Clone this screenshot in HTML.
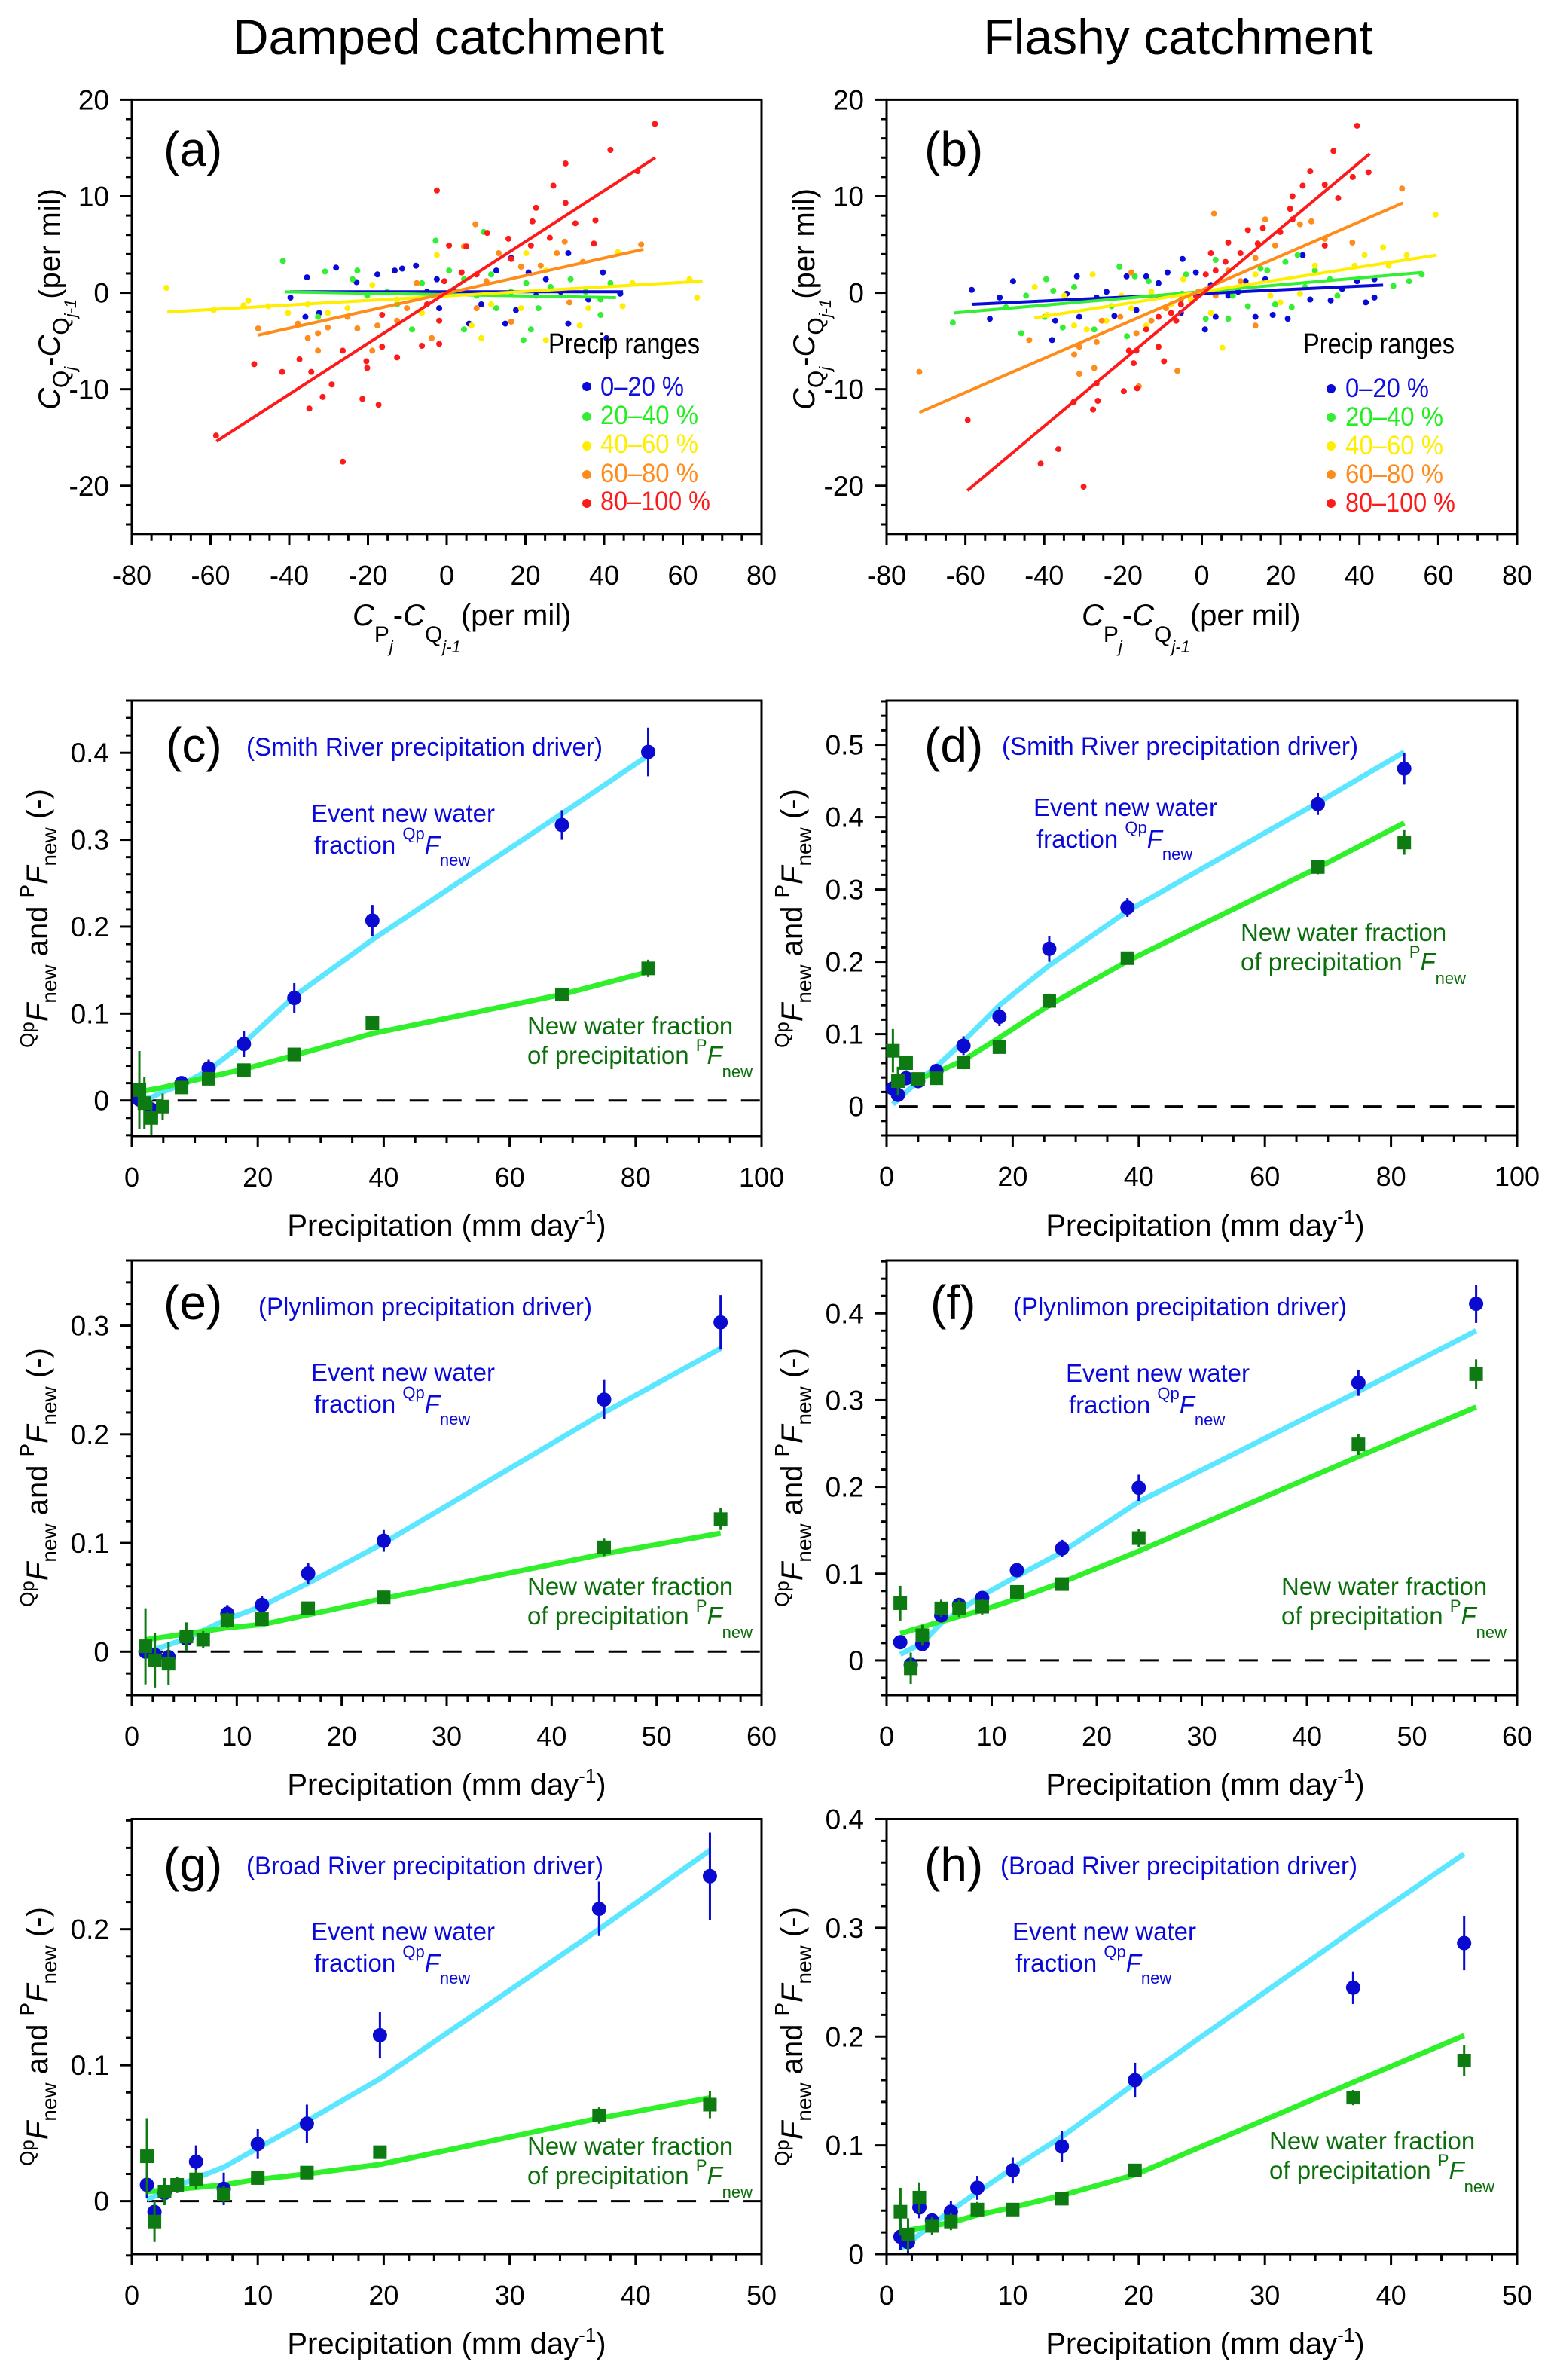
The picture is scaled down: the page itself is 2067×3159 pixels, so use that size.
<!DOCTYPE html>
<html><head><meta charset="utf-8"><style>
html,body{margin:0;padding:0;background:#fff;}
svg{display:block;font-family:"Liberation Sans",Arial,sans-serif;}
</style></head><body>
<svg id="fig" xmlns="http://www.w3.org/2000/svg" width="2067" height="3159" viewBox="0 0 2067 3159">
<rect width="2067" height="3159" fill="#fff"/>
<text x="595" y="72" font-size="66" text-anchor="middle">Damped catchment</text>
<text x="1564" y="72" font-size="66" text-anchor="middle">Flashy catchment</text>
<g id="layer"></g>
</svg>
<script>
// ---------- scatter data (a) damped ----------
const aRed=[[52.9,17.5],[41.6,14.8],[30.2,13.4],[48.5,12.6],[27.1,11.1],[-2.5,10.6],[30.2,9.3],[22.7,8.8],[21.8,7.4],[37.8,7.5],[32.7,7.2],[26.2,5.7],[10.3,6.2],[15.7,5.6],[37.4,5.1],[21.4,4.9],[5.0,4.8],[0.6,4.9],[16.4,3.5],[7.6,1.9],[3.8,2.1],[-0.6,1.2],[-5.0,-1.2],[-1.9,-2.9],[-1.9,-5.3],[-6.3,-5.5],[-12.6,-6.7],[-16.4,-2.3],[-16.4,-5.6],[-20.2,-7.8],[-20.4,-7.1],[-21.4,-11.0],[-17.3,-11.6],[-26.4,-6.0],[-29.2,-9.5],[-31.5,-10.8],[-34.4,-8.2],[-34.9,-12.0],[-37.4,-6.9],[-41.8,-8.2],[-48.9,-7.4],[-58.6,-14.8],[-26.4,-17.5]];
const aOrange=[[49.4,5.0],[30.0,5.3],[7.3,7.1],[4.4,4.8],[18.9,2.7],[13.2,4.1],[34.6,3.2],[23.9,2.8],[10.1,1.2],[31.2,-1.0],[16.4,-3.0],[7.6,-1.6],[-3.8,-0.3],[-7.6,1.0],[-10.1,-1.6],[-12.6,-2.9],[-17.6,-3.4],[-18.9,-6.0],[-22.7,-3.7],[-25.2,-2.5],[-30.2,-3.6],[-32.7,-6.0],[-35.3,-4.7],[-37.8,-3.2],[-47.9,-3.7],[-32.7,-4.2],[-3.8,-4.7],[28.0,4.1]];
const aYellow=[[-71.2,0.5],[-59.2,-1.8],[-51.6,-1.3],[-50.4,-0.8],[-45.3,-1.4],[-40.3,-2.1],[-35.3,-1.2],[-30.2,-2.1],[-25.2,-1.6],[-18.9,0.8],[-12.6,-0.7],[-6.3,-2.1],[-2.5,3.9],[6.3,-3.4],[8.8,-4.7],[11.3,-1.2],[18.9,-1.6],[25.2,-4.9],[33.8,-3.4],[36.0,-1.6],[43.5,4.2],[44.7,-1.4],[47.2,1.0],[61.7,1.4],[63.6,-0.5],[20.2,4.1],[25.2,2.3]];
const aGreen=[[-41.6,3.3],[-30.9,2.2],[-22.7,2.3],[-23.9,1.4],[-20.2,-0.3],[-15.1,0.1],[-12.6,-1.2],[-8.8,-3.8],[-6.3,1.0],[-2.8,5.4],[0.6,2.3],[4.4,1.4],[4.4,-3.8],[9.4,6.3],[11.3,1.9],[12.6,-1.6],[16.4,0.1],[20.2,1.0],[19.5,-4.9],[23.3,-1.6],[26.4,0.6],[31.5,1.4],[35.3,0.1],[39.1,-0.7],[41.6,1.0],[39.1,-2.3],[-32.7,-2.5],[7.6,-0.3],[21.4,-3.8]];
const aBlue=[[-39.7,-0.5],[-35.5,1.6],[-35.9,-2.5],[-32.4,-2.1],[-28.1,2.6],[-22.9,1.1],[-17.6,1.9],[-13.2,2.3],[-11.3,2.5],[-7.8,2.8],[-5.0,0.1],[-2.5,1.4],[-1.9,-1.6],[1.9,0.1],[5.7,-3.2],[8.8,-1.2],[12.6,2.3],[16.4,3.6],[14.9,-3.2],[17.6,-1.8],[20.8,2.1],[22.7,-0.3],[25.2,1.4],[29.0,0.1],[30.9,4.1],[30.9,-3.2],[36.0,-0.7],[39.7,2.1],[40.6,-4.7],[44.1,-0.1]];
const aLineBlue=[[-39.8,0.1],[44.8,0.1]];
const aLineGreen=[[-41,0.1],[43,-0.5]];
const aLineYellow=[[-71,-2.0],[65,1.2]];
const aLineOrange=[[-48,-4.4],[50,4.5]];
const aLineRed=[[-58.5,-15.4],[53,14.0]];
// ---------- scatter data (b) flashy ----------
const bRed=[[39.4,17.3],[33.4,14.7],[27.5,12.6],[42.3,12.5],[38.3,12.0],[31.2,11.2],[25.6,11.1],[23.0,10.0],[34.6,9.8],[22.4,8.7],[23.0,7.6],[15.5,6.7],[11.7,6.5],[19.9,6.3],[31.2,4.9],[6.7,5.2],[9.8,4.1],[14.2,5.1],[2.3,4.1],[6.0,3.2],[3.5,2.3],[1.0,1.9],[-1.5,-0.3],[-5.3,-1.2],[-7.8,-2.1],[-6.5,-2.9],[-11.0,-2.5],[-14.1,-3.8],[-11.0,-5.6],[-18.5,-6.0],[-16.6,-6.0],[-9.6,-7.1],[-17.3,-7.3],[-16.4,-9.9],[-19.8,-10.2],[-26.4,-11.2],[-27.6,-12.1],[-32.5,-11.3],[-26.7,-9.4],[-36.4,-16.2],[-40.9,-17.7],[-30.0,-20.1],[-59.4,-13.2]];
const bOrange=[[50.8,10.8],[3.1,8.2],[16.1,7.6],[27.8,7.4],[24.9,7.1],[31.2,5.6],[38.2,5.2],[18.6,4.9],[13.6,3.6],[6.7,2.3],[9.8,1.2],[3.5,-0.3],[-0.9,0.1],[-5.3,-0.7],[-9.1,-1.6],[-12.8,-2.9],[-16.6,-4.2],[-17.9,2.1],[-20.7,-2.5],[-25.4,-2.9],[-26.7,-5.1],[-31.1,-5.6],[-32.4,-6.4],[-27.3,-7.8],[-31.1,-8.4],[-43.8,-4.9],[-71.7,-8.2],[-6.2,-8.1],[-16.0,-9.7],[13.6,-3.4]];
const bYellow=[[59.3,8.1],[52.0,3.9],[46.0,4.7],[41.3,3.9],[38.8,2.8],[47.4,2.8],[28.7,2.8],[24.9,-0.1],[19.9,-1.0],[17.4,-0.3],[13.6,1.9],[5.2,-5.7],[2.3,-2.1],[-2.8,-0.7],[-4.7,1.4],[-7.8,-1.2],[-12.8,0.1],[-14.1,-3.4],[-17.9,-1.6],[-20.4,-0.3],[-24.2,-2.9],[-27.7,1.9],[-29.2,-3.8],[-32.4,-3.4],[-34.9,-0.3],[-42.4,0.6],[-39.3,-2.3]];
const bGreen=[[-63.2,-3.1],[-49.7,-1.5],[-45.8,-4.2],[-44.6,-0.3],[-39.5,1.4],[-39.9,-2.5],[-37.7,0.2],[-35.3,-3.6],[-32.4,0.6],[-27.3,-3.8],[-22.9,-1.4],[-20.9,2.7],[-19.0,-4.5],[-17.0,1.7],[-13.5,1.2],[-7.8,-0.3],[-5.0,-0.1],[-4.0,1.9],[1.0,-2.7],[3.5,3.4],[6.7,-2.7],[7.9,-0.3],[11.7,-1.4],[14.9,2.5],[16.6,2.3],[18.6,-1.2],[21.2,3.2],[22.8,-1.5],[24.3,3.9],[26.2,0.6],[28.7,2.3],[32.5,1.4],[34.4,-0.3],[48.6,0.7],[55.8,1.9],[52.6,1.2]];
const bBlue=[[-58.4,0.3],[-53.8,-2.7],[-51.3,-0.5],[-47.9,1.2],[-38.0,-4.9],[-37.2,-2.9],[-34.3,-0.1],[-31.7,1.7],[-31.1,-2.5],[-26.7,-0.5],[-24.2,0.1],[-22.2,-2.4],[-19.1,1.7],[-16.6,-1.8],[-14.1,1.7],[-11.0,1.0],[-8.7,2.1],[-4.9,3.5],[-5.3,-2.1],[-1.5,2.1],[0.8,-3.8],[2.3,0.8],[3.5,-2.5],[6.7,-0.3],[9.2,0.1],[11.1,1.2],[13.6,-2.5],[16.1,1.4],[18.0,-2.3],[21.8,-2.7],[25.6,3.9],[27.5,-0.7],[32.7,-0.8],[35.6,0.4],[39.4,1.2],[41.6,-1.0],[43.8,1.4],[43.8,-0.5]];
const bLineBlue=[[-58.4,-1.2],[46,0.8]];
const bLineGreen=[[-63,-2.1],[56,2.1]];
const bLineYellow=[[-42.5,-2.6],[59.6,3.9]];
const bLineOrange=[[-71.7,-12.4],[51,9.3]];
const bLineRed=[[-59.5,-20.5],[42.6,14.4]];
// ---------- (c) ----------
const cBlueX=[1.2,3.0,7.9,12.2,17.8,25.8,38.2,68.3,82.0];
const cBlueY=[0.001,-0.01,0.02,0.037,0.065,0.118,0.207,0.317,0.401];
const cBlueE=[0.005,0.006,0.006,0.01,0.015,0.017,0.018,0.017,0.028];
const cGreenX=[1.2,2.0,3.1,4.9,7.9,12.2,17.8,25.8,38.2,68.3,82.0];
const cGreenY=[0.012,-0.003,-0.02,-0.007,0.015,0.025,0.035,0.053,0.089,0.122,0.152];
const cGreenE=[0.045,0.03,0.02,0.015,0.005,0.004,0.004,0.004,0.004,0.004,0.01];
const cCyanX=[1.2,3.0,4.9,7.9,12.2,17.8,25.8,38.2,68.3,82.0];
const cCyanY=[0.002,0.003,0.01,0.018,0.035,0.066,0.12,0.185,0.33,0.397];
const cLineX=[1.2,4.9,7.9,12.2,17.8,25.8,38.2,68.3,82.0];
const cLineY=[0.01,0.015,0.02,0.027,0.036,0.052,0.077,0.122,0.148];
// ---------- (d) ----------
const dBlueX=[1.0,1.8,3.1,5.0,7.9,12.2,17.9,25.8,38.2,68.4,82.1];
const dBlueY=[0.025,0.016,0.039,0.035,0.049,0.084,0.124,0.218,0.275,0.418,0.467];
const dBlueE=[0.006,0.006,0.006,0.008,0.006,0.013,0.013,0.018,0.013,0.015,0.022];
const dGreenX=[1.0,1.8,3.1,5.0,7.9,12.2,17.9,25.8,38.2,68.4,82.1];
const dGreenY=[0.077,0.035,0.06,0.038,0.039,0.061,0.082,0.146,0.205,0.331,0.365];
const dGreenE=[0.03,0.02,0.01,0.006,0.006,0.008,0.006,0.01,0.007,0.01,0.017];
const dCyanX=[1.0,3.1,5.0,7.9,12.2,17.9,25.8,38.2,68.4,82.1];
const dCyanY=[0.003,0.02,0.035,0.055,0.09,0.14,0.195,0.27,0.42,0.49];
const dLineX=[1.8,5.0,7.9,12.2,17.9,25.8,38.2,68.4,82.1];
const dLineY=[0.03,0.038,0.047,0.064,0.095,0.14,0.201,0.33,0.392];
// ---------- (e) ----------
const eBlueX=[1.3,2.2,3.5,5.2,9.1,12.4,16.8,24.0,45.0,56.1];
const eBlueY=[0.0,-0.003,-0.005,0.012,0.035,0.043,0.072,0.102,0.232,0.303];
const eBlueE=[0.006,0.006,0.006,0.006,0.008,0.008,0.01,0.01,0.018,0.025];
const eGreenX=[1.3,2.2,3.5,5.2,6.8,9.1,12.4,16.8,24.0,45.0,56.1];
const eGreenY=[0.005,-0.008,-0.011,0.014,0.011,0.029,0.03,0.04,0.05,0.096,0.122];
const eGreenE=[0.035,0.025,0.02,0.013,0.008,0.007,0.005,0.004,0.004,0.008,0.01];
const eCyanX=[1.3,2.2,5.2,9.1,12.4,16.8,24.0,45.0,56.1];
const eCyanY=[-0.001,0.002,0.012,0.03,0.042,0.063,0.1,0.22,0.279];
const eLineX=[1.3,9.1,12.4,16.8,24.0,45.0,56.1];
const eLineY=[0.011,0.022,0.025,0.034,0.049,0.09,0.109];
// ---------- (f) ----------
const fBlueX=[1.3,2.3,3.4,5.2,6.9,9.1,12.4,16.7,24.0,44.9,56.1];
const fBlueY=[0.021,-0.005,0.019,0.052,0.064,0.072,0.104,0.129,0.199,0.32,0.411];
const fBlueE=[0.005,0.005,0.006,0.008,0.008,0.008,0.008,0.01,0.015,0.015,0.022];
const fGreenX=[1.3,2.3,3.4,5.2,6.9,9.1,12.4,16.7,24.0,44.9,56.1];
const fGreenY=[0.066,-0.009,0.029,0.06,0.06,0.062,0.079,0.088,0.141,0.249,0.33];
const fGreenE=[0.02,0.018,0.012,0.01,0.01,0.009,0.005,0.005,0.01,0.012,0.017];
const fCyanX=[1.3,3.4,5.2,9.1,12.4,16.7,24.0,44.9,56.1];
const fCyanY=[0.007,0.02,0.043,0.075,0.097,0.125,0.183,0.31,0.38];
const fLineX=[1.3,5.2,9.1,12.4,16.7,24.0,44.9,56.1];
const fLineY=[0.031,0.045,0.058,0.071,0.09,0.126,0.235,0.292];
// ---------- (g) ----------
const gBlueX=[1.2,1.8,2.6,5.1,7.3,10.0,13.9,19.7,37.1,45.9];
const gBlueY=[0.012,-0.008,0.006,0.029,0.009,0.042,0.057,0.122,0.215,0.239];
const gBlueE=[0.01,0.005,0.005,0.012,0.012,0.011,0.014,0.017,0.02,0.032];
const gGreenX=[1.2,1.8,2.6,3.6,5.1,7.3,10.0,13.9,19.7,37.1,45.9];
const gGreenY=[0.033,-0.015,0.007,0.012,0.016,0.005,0.017,0.021,0.036,0.063,0.071];
const gGreenE=[0.028,0.015,0.01,0.006,0.007,0.006,0.004,0.004,0.004,0.006,0.01];
const gCyanX=[1.2,2.6,5.1,7.3,10.0,13.9,19.7,37.1,45.9];
const gCyanY=[0.001,0.007,0.017,0.025,0.039,0.059,0.09,0.2,0.258];
const gLineX=[1.2,5.1,7.3,10.0,13.9,19.7,37.1,45.9];
const gLineY=[0.007,0.01,0.012,0.016,0.02,0.027,0.061,0.076];
// ---------- (h) ----------
const hBlueX=[1.1,1.7,2.6,3.6,5.1,7.2,10.0,13.9,19.7,37.0,45.8];
const hBlueY=[0.016,0.011,0.043,0.031,0.039,0.061,0.077,0.099,0.16,0.245,0.286];
const hBlueE=[0.012,0.01,0.01,0.006,0.01,0.011,0.012,0.014,0.016,0.015,0.025];
const hGreenX=[1.1,1.7,2.6,3.6,5.1,7.2,10.0,13.9,19.7,37.0,45.8];
const hGreenY=[0.039,0.018,0.052,0.026,0.03,0.041,0.041,0.051,0.077,0.144,0.178];
const hGreenE=[0.022,0.015,0.014,0.008,0.008,0.007,0.005,0.005,0.006,0.007,0.014];
const hCyanX=[1.1,1.7,3.6,5.1,7.2,10.0,13.9,19.7,37.0,45.8];
const hCyanY=[0.005,0.01,0.027,0.04,0.057,0.079,0.108,0.157,0.298,0.368];
const hLineX=[1.7,5.1,7.2,10.0,13.9,19.7,37.0,45.8];
const hLineY=[0.022,0.029,0.036,0.043,0.054,0.073,0.158,0.201];

const NS='http://www.w3.org/2000/svg';
const layer=document.getElementById('layer');
function mk(tag,attrs,parent){const e=document.createElementNS(NS,tag);for(const k in attrs)e.setAttribute(k,attrs[k]);(parent||layer).appendChild(e);return e;}
function sx(p,v){return p.x0+(v-p.xmin)/(p.xmax-p.xmin)*(p.x1-p.x0);}
function sy(p,v){return p.y1-(v-p.ymin)/(p.ymax-p.ymin)*(p.y1-p.y0);}
function fmt(v){return (Math.round(v*1000)/1000).toString();}
function range(a,b,s){const r=[];for(let v=a;v<=b+1e-9;v+=s)r.push(Math.round(v*1000)/1000);return r;}

function axes(p,id){
  const g=mk('g',{});
  
  
  const fr=mk('rect',{x:p.x0,y:p.y0,width:p.x1-p.x0,height:p.y1-p.y0,fill:'none',stroke:'#000','stroke-width':3},g);
  
  
  range(p.xmin,p.xmax,p.xminor).forEach(v=>{
    const X=sx(p,v);const major=p.xmajor.some(m=>Math.abs(m-v)<1e-6);
    const t=mk('line',{x1:X,x2:X,y1:p.y1,y2:p.y1+(major?15:9),stroke:'#000','stroke-width':3},g);
    
    
  });
  p.xmajor.forEach(v=>{
    const t=mk('text',{x:sx(p,v),y:p.y1+67,'font-size':36,'text-anchor':'middle'},g);t.textContent=fmt(v);
    
    
  });
  range(p.yminorStart,p.ymax+1e-9,p.yminor).forEach(v=>{
    const Y=sy(p,v);const major=p.ymajor.some(m=>Math.abs(m-v)<1e-6);
    const t=mk('line',{x1:p.x0-(major?16:8),x2:p.x0,y1:Y,y2:Y,stroke:'#000','stroke-width':3},g);
    
    
  });
  p.ymajor.forEach(v=>{
    const t=mk('text',{x:p.x0-30,y:sy(p,v)+13,'font-size':37,'text-anchor':'end'},g);t.textContent=fmt(v);
    
    
  });
}

const PA={x0:175,x1:1011,y0:132.4,y1:708.8,xmin:-80,xmax:80,ymin:-25,ymax:20,xmajor:range(-80,80,20),xminor:5,ymajor:[-20,-10,0,10,20],yminor:2,yminorStart:-24};
const PB=Object.assign({},PA,{x0:1177,x1:2014});
const scol={blue:'#0a0ad8',green:'#33ee33',yellow:'#ffee00',orange:'#ff8c1a',red:'#ff1a1a'};
function scatterPanel(p,id,sets,lines){
  axes(p,id);
  const order=['blue','green','yellow','orange','red'];
  order.forEach(c=>{
    const g=mk('g',{fill:scol[c]});
    
    
    sets[c].forEach(d=>{
      const e=mk('circle',{cx:sx(p,d[0]),cy:sy(p,d[1]),r:4},g);
      
      
    });
  });
  order.forEach(c=>{
    const L=lines[c];
    const e=mk('line',{x1:sx(p,L[0][0]),y1:sy(p,L[0][1]),x2:sx(p,L[1][0]),y2:sy(p,L[1][1]),stroke:scol[c],'stroke-width':4});
    
    
  });
}
scatterPanel(PA,'a',{blue:aBlue,green:aGreen,yellow:aYellow,orange:aOrange,red:aRed},{blue:aLineBlue,green:aLineGreen,yellow:aLineYellow,orange:aLineOrange,red:aLineRed});
scatterPanel(PB,'b',{blue:bBlue,green:bGreen,yellow:bYellow,orange:bOrange,red:bRed},{blue:bLineBlue,green:bLineGreen,yellow:bLineYellow,orange:bLineOrange,red:bLineRed});

function fracPanel(p,id,d){
  axes(p,id);
  if(p.ymin<0){
    const z=mk('line',{x1:sx(p,p.dashStart),x2:p.x1,y1:sy(p,0),y2:sy(p,0),stroke:'#000','stroke-width':3,'stroke-dasharray':'25 19'});
    
    
  }
  const pc=mk('polyline',{points:d.cx.map((x,i)=>sx(p,x)+','+sy(p,d.cy[i])).join(' '),fill:'none',stroke:'#5ce6ff','stroke-width':7,'stroke-linejoin':'round'});
  
  
  const pg=mk('polyline',{points:d.lx.map((x,i)=>sx(p,x)+','+sy(p,d.ly[i])).join(' '),fill:'none',stroke:'#2ff02a','stroke-width':7,'stroke-linejoin':'round'});
  
  
  d.bx.forEach((x,i)=>{
    const X=sx(p,x),Y=sy(p,d.by[i]);
    const eb=mk('line',{x1:X,x2:X,y1:sy(p,d.by[i]-d.be[i]),y2:sy(p,d.by[i]+d.be[i]),stroke:'#0a0ad0','stroke-width':3});
    
    
    const c=mk('circle',{cx:X,cy:Y,r:9.5,fill:'#0a0ad0'});
    
    
  });
  d.gx.forEach((x,i)=>{
    const X=sx(p,x),Y=sy(p,d.gy[i]);
    const eb=mk('line',{x1:X,x2:X,y1:sy(p,d.gy[i]-d.ge[i]),y2:sy(p,d.gy[i]+d.ge[i]),stroke:'#0e7a12','stroke-width':3});
    
    
    const s=mk('rect',{x:X-9,y:Y-9,width:18,height:18,fill:'#0e7a12'});
    
    
  });
}
const L0=175,L1=1011,R0=1177,R1=2014;
fracPanel({x0:L0,x1:L1,y0:930,y1:1508,xmin:0,xmax:100,ymin:-0.041,ymax:0.46,xmajor:range(0,100,20),xminor:5,ymajor:[0,0.1,0.2,0.3,0.4],yminor:0.02,yminorStart:-0.04,dashStart:2},'c',
 {bx:cBlueX,by:cBlueY,be:cBlueE,gx:cGreenX,gy:cGreenY,ge:cGreenE,cx:cCyanX,cy:cCyanY,lx:cLineX,ly:cLineY});
fracPanel({x0:R0,x1:R1,y0:930,y1:1507,xmin:0,xmax:100,ymin:-0.040,ymax:0.561,xmajor:range(0,100,20),xminor:5,ymajor:[0,0.1,0.2,0.3,0.4,0.5],yminor:0.02,yminorStart:-0.04,dashStart:2},'d',
 {bx:dBlueX,by:dBlueY,be:dBlueE,gx:dGreenX,gy:dGreenY,ge:dGreenE,cx:dCyanX,cy:dCyanY,lx:dLineX,ly:dLineY});
fracPanel({x0:L0,x1:L1,y0:1673,y1:2250,xmin:0,xmax:60,ymin:-0.04,ymax:0.36,xmajor:range(0,60,10),xminor:2,ymajor:[0,0.1,0.2,0.3],yminor:0.02,yminorStart:-0.04,dashStart:1.2},'e',
 {bx:eBlueX,by:eBlueY,be:eBlueE,gx:eGreenX,gy:eGreenY,ge:eGreenE,cx:eCyanX,cy:eCyanY,lx:eLineX,ly:eLineY});
fracPanel({x0:R0,x1:R1,y0:1673,y1:2250,xmin:0,xmax:60,ymin:-0.04,ymax:0.461,xmajor:range(0,60,10),xminor:2,ymajor:[0,0.1,0.2,0.3,0.4],yminor:0.02,yminorStart:-0.04,dashStart:2},'f',
 {bx:fBlueX,by:fBlueY,be:fBlueE,gx:fGreenX,gy:fGreenY,ge:fGreenE,cx:fCyanX,cy:fCyanY,lx:fLineX,ly:fLineY});
fracPanel({x0:L0,x1:L1,y0:2414.5,y1:2992,xmin:0,xmax:50,ymin:-0.039,ymax:0.281,xmajor:range(0,50,10),xminor:2,ymajor:[0,0.1,0.2],yminor:0.02,yminorStart:-0.04,dashStart:1.2},'g',
 {bx:gBlueX,by:gBlueY,be:gBlueE,gx:gGreenX,gy:gGreenY,ge:gGreenE,cx:gCyanX,cy:gCyanY,lx:gLineX,ly:gLineY});
fracPanel({x0:R0,x1:R1,y0:2414.5,y1:2992,xmin:0,xmax:50,ymin:0,ymax:0.4,xmajor:range(0,50,10),xminor:2,ymajor:[0,0.1,0.2,0.3,0.4],yminor:0.02,yminorStart:0,dashStart:2},'h',
 {bx:hBlueX,by:hBlueY,be:hBlueE,gx:hGreenX,gy:hGreenY,ge:hGreenE,cx:hCyanX,cy:hCyanY,lx:hLineX,ly:hLineY});
</script>
<svg style="position:absolute;left:0;top:0" width="2067" height="3159" viewBox="0 0 2067 3159" xmlns="http://www.w3.org/2000/svg" font-family="Liberation Sans, Arial, sans-serif">
<g font-size="64">
<text x="217" y="220">(a)</text>
<text x="1227" y="220">(b)</text>
<text x="220" y="1011">(c)</text>
<text x="1227" y="1011">(d)</text>
<text x="217" y="1751">(e)</text>
<text x="1235" y="1751">(f)</text>
<text x="217" y="2497">(g)</text>
<text x="1227" y="2497">(h)</text>
</g>
<g font-size="35">
<text x="728" y="469" textLength="201" lengthAdjust="spacingAndGlyphs" font-size="38">Precip ranges</text>
<circle cx="779" cy="513" r="6" fill="#0a0ad8"/><text x="797" y="525" fill="#1010e0" textLength="111" lengthAdjust="spacingAndGlyphs">0–20 %</text>
<circle cx="779" cy="553" r="6" fill="#33ee33"/><text x="797" y="563" fill="#22ee22" textLength="130" lengthAdjust="spacingAndGlyphs">20–40 %</text>
<circle cx="779" cy="592" r="6" fill="#ffee00"/><text x="797" y="601" fill="#ffee00" textLength="130" lengthAdjust="spacingAndGlyphs">40–60 %</text>
<circle cx="779" cy="630" r="6" fill="#ff8c1a"/><text x="797" y="640" fill="#ff8c1a" textLength="130" lengthAdjust="spacingAndGlyphs">60–80 %</text>
<circle cx="779" cy="668" r="6" fill="#ff1a1a"/><text x="797" y="677" fill="#ff1a1a" textLength="146" lengthAdjust="spacingAndGlyphs">80–100 %</text>
</g>
<g font-size="35">
<text x="1730" y="469" textLength="201" lengthAdjust="spacingAndGlyphs" font-size="38">Precip ranges</text>
<circle cx="1767" cy="516" r="6" fill="#0a0ad8"/><text x="1786" y="527" fill="#1010e0" textLength="111" lengthAdjust="spacingAndGlyphs">0–20 %</text>
<circle cx="1767" cy="554" r="6" fill="#33ee33"/><text x="1786" y="565" fill="#22ee22" textLength="130" lengthAdjust="spacingAndGlyphs">20–40 %</text>
<circle cx="1767" cy="592" r="6" fill="#ffee00"/><text x="1786" y="603" fill="#ffee00" textLength="130" lengthAdjust="spacingAndGlyphs">40–60 %</text>
<circle cx="1767" cy="630" r="6" fill="#ff8c1a"/><text x="1786" y="641" fill="#ff8c1a" textLength="130" lengthAdjust="spacingAndGlyphs">60–80 %</text>
<circle cx="1767" cy="668" r="6" fill="#ff1a1a"/><text x="1786" y="679" fill="#ff1a1a" textLength="146" lengthAdjust="spacingAndGlyphs">80–100 %</text>
</g>
<g font-size="40">
<text transform="translate(79,397) rotate(-90)" text-anchor="middle"><tspan font-style="italic">C</tspan><tspan font-size="30" dy="12">Q</tspan><tspan font-size="22" font-style="italic" dy="10">j</tspan><tspan dy="-22">-</tspan><tspan font-style="italic">C</tspan><tspan font-size="30" dy="12">Q</tspan><tspan font-size="22" font-style="italic" dy="10">j-1</tspan><tspan dy="-22">(per mil)</tspan></text>
<text transform="translate(1081,397) rotate(-90)" text-anchor="middle"><tspan font-style="italic">C</tspan><tspan font-size="30" dy="12">Q</tspan><tspan font-size="22" font-style="italic" dy="10">j</tspan><tspan dy="-22">-</tspan><tspan font-style="italic">C</tspan><tspan font-size="30" dy="12">Q</tspan><tspan font-size="22" font-style="italic" dy="10">j-1</tspan><tspan dy="-22">(per mil)</tspan></text>
<text x="468" y="830"><tspan font-style="italic">C</tspan><tspan font-size="30" dy="22">P</tspan><tspan font-size="22" font-style="italic" dy="14">j</tspan><tspan dy="-36">-</tspan><tspan font-style="italic">C</tspan><tspan font-size="30" dy="22">Q</tspan><tspan font-size="22" font-style="italic" dy="14">j-1</tspan><tspan dy="-36">(per mil)</tspan></text>
<text x="1436" y="830"><tspan font-style="italic">C</tspan><tspan font-size="30" dy="22">P</tspan><tspan font-size="22" font-style="italic" dy="14">j</tspan><tspan dy="-36">-</tspan><tspan font-style="italic">C</tspan><tspan font-size="30" dy="22">Q</tspan><tspan font-size="22" font-style="italic" dy="14">j-1</tspan><tspan dy="-36">(per mil)</tspan></text>
</g>
<g font-size="40">
<text x="593" y="1640" text-anchor="middle">Precipitation (mm day<tspan font-size="26" dy="-16">-1</tspan><tspan dy="16">)</tspan></text>
<text x="1600" y="1640" text-anchor="middle">Precipitation (mm day<tspan font-size="26" dy="-16">-1</tspan><tspan dy="16">)</tspan></text>
<text x="593" y="2382" text-anchor="middle">Precipitation (mm day<tspan font-size="26" dy="-16">-1</tspan><tspan dy="16">)</tspan></text>
<text x="1600" y="2382" text-anchor="middle">Precipitation (mm day<tspan font-size="26" dy="-16">-1</tspan><tspan dy="16">)</tspan></text>
<text x="593" y="3124" text-anchor="middle">Precipitation (mm day<tspan font-size="26" dy="-16">-1</tspan><tspan dy="16">)</tspan></text>
<text x="1600" y="3124" text-anchor="middle">Precipitation (mm day<tspan font-size="26" dy="-16">-1</tspan><tspan dy="16">)</tspan></text>
<text transform="translate(63,1219) rotate(-90)" text-anchor="middle"><tspan font-size="26" dy="-18">Qp</tspan><tspan font-style="italic" dy="18">F</tspan><tspan font-size="28" dy="12">new</tspan><tspan dy="-12"> and </tspan><tspan font-size="26" dy="-18">P</tspan><tspan font-style="italic" dy="18">F</tspan><tspan font-size="28" dy="12">new</tspan><tspan dy="-12"> (-)</tspan></text>
<text transform="translate(1065,1219) rotate(-90)" text-anchor="middle"><tspan font-size="26" dy="-18">Qp</tspan><tspan font-style="italic" dy="18">F</tspan><tspan font-size="28" dy="12">new</tspan><tspan dy="-12"> and </tspan><tspan font-size="26" dy="-18">P</tspan><tspan font-style="italic" dy="18">F</tspan><tspan font-size="28" dy="12">new</tspan><tspan dy="-12"> (-)</tspan></text>
<text transform="translate(63,1961) rotate(-90)" text-anchor="middle"><tspan font-size="26" dy="-18">Qp</tspan><tspan font-style="italic" dy="18">F</tspan><tspan font-size="28" dy="12">new</tspan><tspan dy="-12"> and </tspan><tspan font-size="26" dy="-18">P</tspan><tspan font-style="italic" dy="18">F</tspan><tspan font-size="28" dy="12">new</tspan><tspan dy="-12"> (-)</tspan></text>
<text transform="translate(1065,1961) rotate(-90)" text-anchor="middle"><tspan font-size="26" dy="-18">Qp</tspan><tspan font-style="italic" dy="18">F</tspan><tspan font-size="28" dy="12">new</tspan><tspan dy="-12"> and </tspan><tspan font-size="26" dy="-18">P</tspan><tspan font-style="italic" dy="18">F</tspan><tspan font-size="28" dy="12">new</tspan><tspan dy="-12"> (-)</tspan></text>
<text transform="translate(63,2703) rotate(-90)" text-anchor="middle"><tspan font-size="26" dy="-18">Qp</tspan><tspan font-style="italic" dy="18">F</tspan><tspan font-size="28" dy="12">new</tspan><tspan dy="-12"> and </tspan><tspan font-size="26" dy="-18">P</tspan><tspan font-style="italic" dy="18">F</tspan><tspan font-size="28" dy="12">new</tspan><tspan dy="-12"> (-)</tspan></text>
<text transform="translate(1065,2703) rotate(-90)" text-anchor="middle"><tspan font-size="26" dy="-18">Qp</tspan><tspan font-style="italic" dy="18">F</tspan><tspan font-size="28" dy="12">new</tspan><tspan dy="-12"> and </tspan><tspan font-size="26" dy="-18">P</tspan><tspan font-style="italic" dy="18">F</tspan><tspan font-size="28" dy="12">new</tspan><tspan dy="-12"> (-)</tspan></text>
</g>
<g font-size="34" fill="#0a0ad8">
<text x="327" y="1003" textLength="473" lengthAdjust="spacingAndGlyphs">(Smith River precipitation driver)</text>
<text x="1330" y="1002" textLength="473" lengthAdjust="spacingAndGlyphs">(Smith River precipitation driver)</text>
<text x="343" y="1746" textLength="443" lengthAdjust="spacingAndGlyphs">(Plynlimon precipitation driver)</text>
<text x="1345" y="1746" textLength="443" lengthAdjust="spacingAndGlyphs">(Plynlimon precipitation driver)</text>
<text x="327" y="2488" textLength="474" lengthAdjust="spacingAndGlyphs">(Broad River precipitation driver)</text>
<text x="1328" y="2488" textLength="474" lengthAdjust="spacingAndGlyphs">(Broad River precipitation driver)</text>
</g>
<g font-size="33">
<g fill="#0a0ad8" transform="translate(413,1091)"><text>Event new water</text><text x="4" y="42">fraction <tspan font-size="22" dy="-19">Qp</tspan><tspan font-style="italic" dy="19">F</tspan><tspan font-size="22" dy="16">new</tspan></text></g>
<g fill="#0a6e0a" transform="translate(700,1373)"><text>New water fraction</text><text y="39">of precipitation <tspan font-size="22" dy="-17">P</tspan><tspan font-style="italic" dy="17">F</tspan><tspan font-size="22" dy="18">new</tspan></text></g>
<g fill="#0a0ad8" transform="translate(1372,1083)"><text>Event new water</text><text x="4" y="42">fraction <tspan font-size="22" dy="-19">Qp</tspan><tspan font-style="italic" dy="19">F</tspan><tspan font-size="22" dy="16">new</tspan></text></g>
<g fill="#0a6e0a" transform="translate(1647,1249)"><text>New water fraction</text><text y="39">of precipitation <tspan font-size="22" dy="-17">P</tspan><tspan font-style="italic" dy="17">F</tspan><tspan font-size="22" dy="18">new</tspan></text></g>
<g fill="#0a0ad8" transform="translate(413,1833)"><text>Event new water</text><text x="4" y="42">fraction <tspan font-size="22" dy="-19">Qp</tspan><tspan font-style="italic" dy="19">F</tspan><tspan font-size="22" dy="16">new</tspan></text></g>
<g fill="#0a6e0a" transform="translate(700,2117)"><text>New water fraction</text><text y="39">of precipitation <tspan font-size="22" dy="-17">P</tspan><tspan font-style="italic" dy="17">F</tspan><tspan font-size="22" dy="18">new</tspan></text></g>
<g fill="#0a0ad8" transform="translate(1415,1834)"><text>Event new water</text><text x="4" y="42">fraction <tspan font-size="22" dy="-19">Qp</tspan><tspan font-style="italic" dy="19">F</tspan><tspan font-size="22" dy="16">new</tspan></text></g>
<g fill="#0a6e0a" transform="translate(1701,2117)"><text>New water fraction</text><text y="39">of precipitation <tspan font-size="22" dy="-17">P</tspan><tspan font-style="italic" dy="17">F</tspan><tspan font-size="22" dy="18">new</tspan></text></g>
<g fill="#0a0ad8" transform="translate(413,2575)"><text>Event new water</text><text x="4" y="42">fraction <tspan font-size="22" dy="-19">Qp</tspan><tspan font-style="italic" dy="19">F</tspan><tspan font-size="22" dy="16">new</tspan></text></g>
<g fill="#0a6e0a" transform="translate(700,2860)"><text>New water fraction</text><text y="39">of precipitation <tspan font-size="22" dy="-17">P</tspan><tspan font-style="italic" dy="17">F</tspan><tspan font-size="22" dy="18">new</tspan></text></g>
<g fill="#0a0ad8" transform="translate(1344,2575)"><text>Event new water</text><text x="4" y="42">fraction <tspan font-size="22" dy="-19">Qp</tspan><tspan font-style="italic" dy="19">F</tspan><tspan font-size="22" dy="16">new</tspan></text></g>
<g fill="#0a6e0a" transform="translate(1685,2853)"><text>New water fraction</text><text y="39">of precipitation <tspan font-size="22" dy="-17">P</tspan><tspan font-style="italic" dy="17">F</tspan><tspan font-size="22" dy="18">new</tspan></text></g>
</g>
</svg>
</body></html>
